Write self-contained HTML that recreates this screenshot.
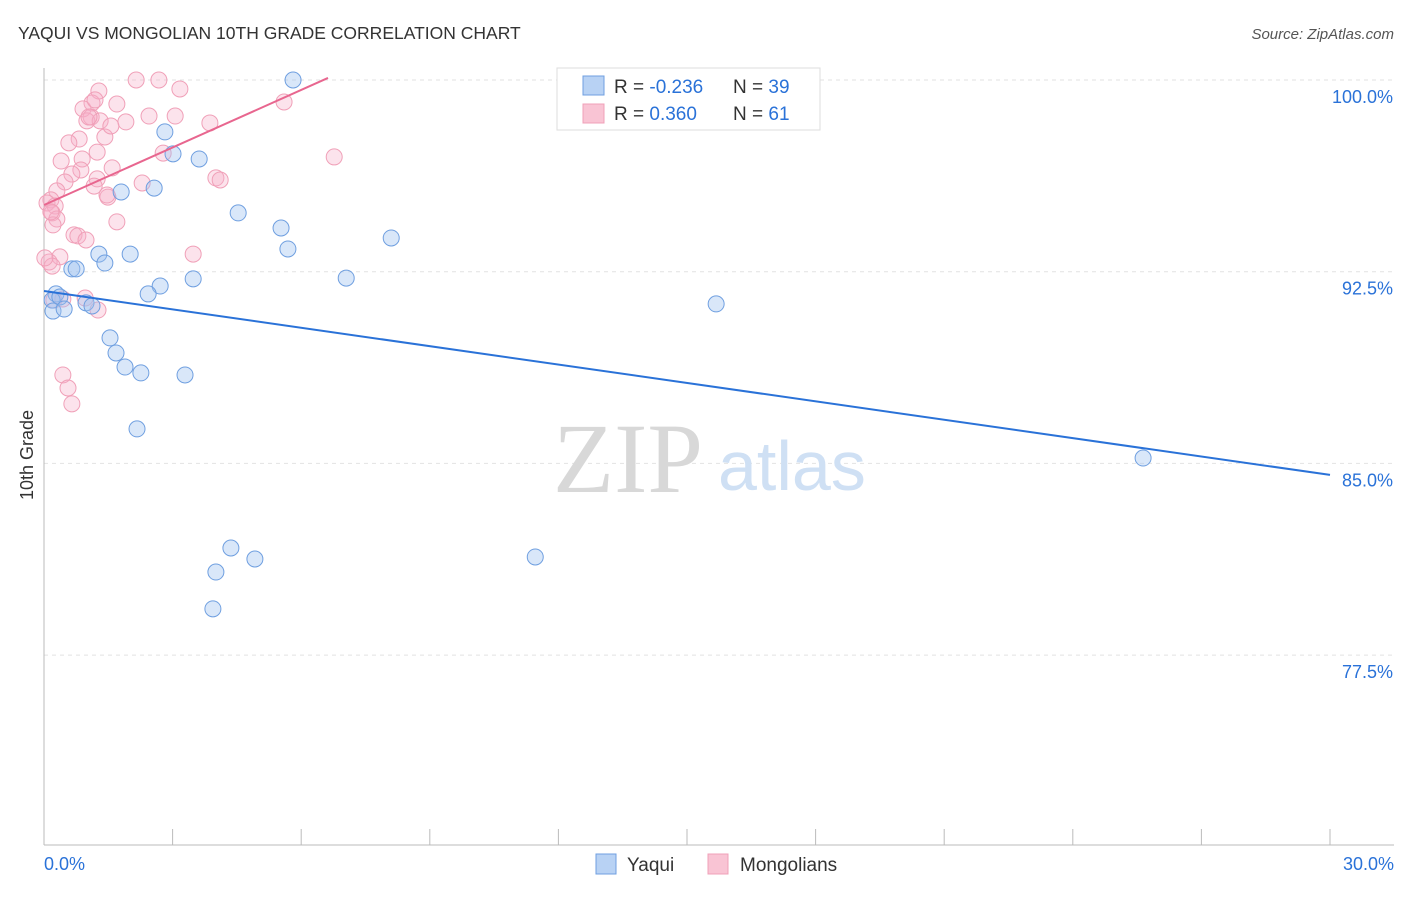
<!DOCTYPE html>
<html><head><meta charset="utf-8"><style>
body{margin:0;background:#fff;font-family:"Liberation Sans",sans-serif;}
svg text{font-family:"Liberation Sans",sans-serif;}
</style></head><body>
<svg id="chart" width="1406" height="892">
<text x="18" y="39" font-size="17.5" fill="#333">YAQUI VS MONGOLIAN 10TH GRADE CORRELATION CHART</text>
<text x="1394" y="39" font-size="15" fill="#555" font-style="italic" text-anchor="end">Source: ZipAtlas.com</text>
<g id="grid"></g>
<g id="ylabels"></g>
<g id="xaxis"></g>
<text x="33" y="455" font-size="18" fill="#333" text-anchor="middle" transform="rotate(-90 33 455)">10th Grade</text>
<text x="553" y="492" font-size="100" fill="#d8d8d8" style="font-family:'Liberation Serif',serif">ZIP</text>
<text x="718" y="490" font-size="70" fill="#cfe0f4">atlas</text>
<g id="pts"></g>
<g id="lines"></g>
<g>
<rect x="557" y="68" width="263" height="62" fill="#fff" stroke="#ddd"/>
<rect x="583" y="76" width="21" height="19" fill="#b8d2f4" stroke="#6f9fe0"/>
<rect x="583" y="104" width="21" height="19" fill="#f9c4d4" stroke="#f0a0b8"/>
<text x="614" y="93" font-size="19" fill="#333">R = <tspan fill="#2a72d8">-0.236</tspan></text>
<text x="733" y="93" font-size="19" fill="#333">N = <tspan fill="#2a72d8">39</tspan></text>
<text x="614" y="120" font-size="19" fill="#333">R = <tspan fill="#2a72d8"> 0.360</tspan></text>
<text x="733" y="120" font-size="19" fill="#333">N = <tspan fill="#2a72d8"> 61</tspan></text>
</g>
<g><rect x="596" y="854" width="20" height="20" fill="#b8d2f4" stroke="#6f9fe0"/><text x="627" y="871" font-size="19" fill="#333">Yaqui</text></g>
<g><rect x="708" y="854" width="20" height="20" fill="#f9c4d4" stroke="#f0a0b8"/><text x="740" y="871" font-size="19" fill="#333">Mongolians</text></g>
</svg>
<script>
const yTicks=[100,92.5,85,77.5];
const yTickLabels=["100.0%","92.5%","85.0%","77.5%"];
const xTicks=[0,3,6,9,12,15,18,21,24,27,30];
const blueX=[5.81,2.82,3.01,3.62,1.80,2.57,4.53,5.53,5.69,8.10,1.28,2.01,1.42,0.65,0.75,3.48,7.05,2.71,2.43,0.28,0.19,0.37,0.98,1.12,0.21,0.47,15.68,1.54,1.68,1.89,2.26,3.29,2.17,4.36,4.92,4.01,3.94,11.46,25.64];
const blueY=[100,97.97,97.11,96.91,95.62,95.77,94.80,94.21,93.39,93.82,93.19,93.19,92.84,92.61,92.61,92.22,92.25,91.94,91.63,91.63,91.39,91.51,91.28,91.16,90.96,91.04,91.24,89.91,89.32,88.77,88.54,88.46,86.35,81.69,81.26,80.75,79.31,81.34,85.21];
const pinkX=[2.15,2.68,3.17,5.60,1.28,1.12,1.70,0.91,1.10,1.00,1.31,1.91,2.45,3.06,1.42,3.87,0.82,0.58,1.24,2.78,6.77,0.89,0.40,1.59,0.86,0.65,0.49,2.29,1.24,1.17,4.01,4.11,0.30,1.49,0.16,0.07,0.26,0.19,0.30,1.70,0.21,0.70,0.79,0.98,3.48,0.37,0.12,0.19,1.26,0.44,0.56,0.65,0.23,1.47,1.05,0.44,0.02,0.96,0.16,1.19,1.56];
const pinkY=[100,100,99.65,99.14,99.57,99.10,99.06,98.87,98.55,98.40,98.40,98.36,98.59,98.59,97.77,98.32,97.69,97.54,97.18,97.14,96.99,96.91,96.83,96.56,96.48,96.32,96.01,95.97,96.13,95.85,96.17,96.09,95.66,95.42,95.31,95.19,95.07,94.80,94.56,94.45,94.33,93.94,93.90,93.74,93.19,93.08,92.88,92.72,91.00,88.46,87.95,87.33,91.39,95.50,98.55,91.43,93.04,91.47,94.84,99.22,98.20];
const blueTrend=[[0,91.745],[30,84.55]];
const pinkTrend=[[0,95.11],[6.625,100.08]];
const X=v=>44+v/30*1286, Y=v=>80+(100-v)/7.5*191.7;
const NS="http://www.w3.org/2000/svg";
function mk(t,a,p){const e=document.createElementNS(NS,t);for(const k in a)e.setAttribute(k,a[k]);p.appendChild(e);return e;}
const grid=document.getElementById('grid'),yl=document.getElementById('ylabels'),xa=document.getElementById('xaxis');
yTicks.forEach((v,i)=>{
 const l=mk('line',{x1:44,x2:1394,y1:Y(v),y2:Y(v),stroke:'#e2e2e2','stroke-dasharray':'4,4'},grid);
 
 
 const t=mk('text',{x:1393,y:Y(v)+23,'font-size':18,fill:'#2a72d8','text-anchor':'end'},yl);t.textContent=yTickLabels[i];
 
 
});
mk('line',{x1:44,x2:44,y1:68,y2:845,stroke:'#bbb'},xa);
mk('line',{x1:44,x2:1394,y1:845,y2:845,stroke:'#bbb'},xa);
xTicks.forEach(v=>{const l=mk('line',{x1:X(v),x2:X(v),y1:829,y2:845,stroke:'#bbb'},xa);
 
 });
let t=mk('text',{x:44,y:870,'font-size':18,fill:'#2a72d8'},xa);t.textContent='0.0%';
t=mk('text',{x:1394,y:870,'font-size':18,fill:'#2a72d8','text-anchor':'end'},xa);t.textContent='30.0%';
const pts=document.getElementById('pts');
pinkX.forEach((x,i)=>{const c=mk('circle',{cx:X(x),cy:Y(pinkY[i]),r:8,fill:'rgba(246,176,200,0.35)',stroke:'#f0a0b8','stroke-width':1},pts);
 
 });
blueX.forEach((x,i)=>{const c=mk('circle',{cx:X(x),cy:Y(blueY[i]),r:8,fill:'rgba(160,195,240,0.4)',stroke:'#6f9fe0','stroke-width':1},pts);
 
 });
const lines=document.getElementById('lines');
let l=mk('line',{x1:X(blueTrend[0][0]),y1:Y(blueTrend[0][1]),x2:X(blueTrend[1][0]),y2:Y(blueTrend[1][1]),stroke:'#2a72d8','stroke-width':2},lines);


l=mk('line',{x1:X(pinkTrend[0][0]),y1:Y(pinkTrend[0][1]),x2:X(pinkTrend[1][0]),y2:Y(pinkTrend[1][1]),stroke:'#e8668f','stroke-width':2},lines);


</script>
</body></html>
